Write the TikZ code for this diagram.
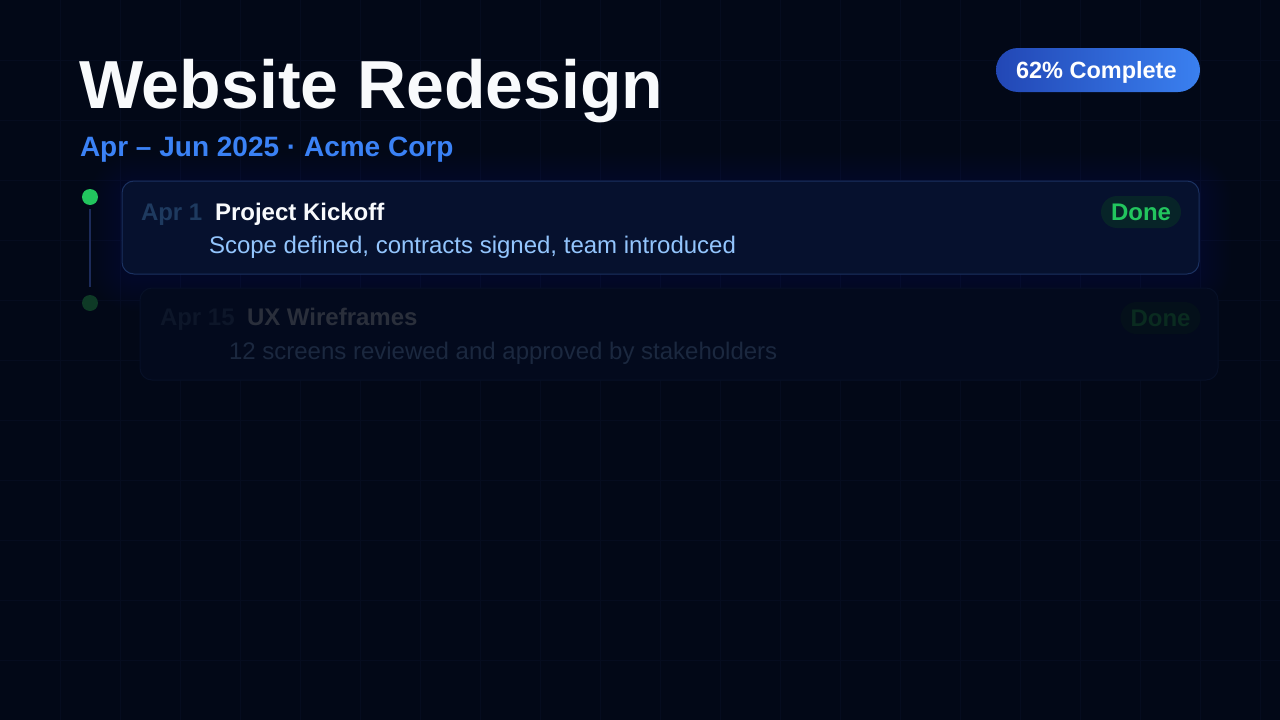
\documentclass[tikz,border=0pt]{standalone}
\usepackage{fontspec}
\setmainfont{Liberation Sans}
\definecolor{bg}{HTML}{020817}
\definecolor{gridc}{HTML}{050C1F}
\definecolor{titlec}{HTML}{F8FAFC}
\definecolor{subc}{HTML}{3B82F6}
\definecolor{badgeL}{HTML}{2247B5}
\definecolor{badgeR}{HTML}{3A80F0}
\definecolor{card1fill}{HTML}{06112E}
\definecolor{card1line}{HTML}{1B3160}
\definecolor{glowc}{HTML}{1D4ED8}
\definecolor{date1}{HTML}{1E3A5F}
\definecolor{desc1}{HTML}{93C5FD}
\definecolor{donefill}{HTML}{072428}
\definecolor{donetext}{HTML}{22C55E}
\definecolor{card2fill}{HTML}{030A1D}
\definecolor{card2line}{HTML}{071027}
\definecolor{date2}{HTML}{0D1629}
\definecolor{ttl2}{HTML}{2A2F3B}
\definecolor{desc2}{HTML}{1B283F}
\definecolor{done2fill}{HTML}{04101A}
\definecolor{done2text}{HTML}{0A2B20}
\definecolor{dot2c}{HTML}{0E3A26}
\definecolor{railc}{HTML}{1C2B5A}
\tikzset{
  txt/.style={anchor=base west, inner sep=0pt, outer sep=0pt},
  cardbox/.style={rectangle, rounded corners=12pt, inner sep=0pt, line width=1pt},
  donepill/.style={rectangle, rounded corners=16pt, inner sep=0pt, minimum width=80pt, minimum height=32pt, font=\fontsize{24}{28}\selectfont\bfseries},
  dotnode/.style={circle, inner sep=0pt, minimum size=16pt},
}
\begin{document}
\begin{tikzpicture}[x=1pt,y=-1pt]
\useasboundingbox (0,0) rectangle (1280,720);
\fill[bg] (0,0) rectangle (1280,720);
% faint grid
\foreach \gx in {60,120,...,1260} \draw[gridc, line width=1pt] (\gx,0) -- (\gx,720);
\foreach \gy in {60,120,...,660} \draw[gridc, line width=1pt] (0,\gy) -- (1280,\gy);

% title
\node[txt, text=titlec, font=\fontsize{68}{80}\selectfont\bfseries] (title) at (79,108) {Website Redesign};
\node[txt, text=subc, font=\fontsize{28}{32}\selectfont\bfseries] (subtitle) at (80,156) {Apr – Jun 2025 · Acme Corp};

% badge
\shade[left color=badgeL, right color=badgeR, rounded corners=22pt] (996,48) rectangle (1200,92);
\node[txt, text=white, font=\fontsize{23.5}{28}\selectfont\bfseries] (badge) at (1016,78.5) {62\% Complete};

% glow around card 1
\foreach \i in {1,...,16}
  \fill[glowc, opacity=0.007, rounded corners={12+2*\i}] ({122-2*\i},{185-2*\i}) rectangle ({1199+2*\i},{279+2*\i});

% card 2 (faded)
\node[cardbox, fill=card2fill, draw=card2line, minimum width=1078pt, minimum height=92pt] (card2) at (679,334) {};
\node[txt, text=date2, font=\fontsize{24}{28}\selectfont\bfseries] (date2) at (160,325) {Apr 15};
\node[txt, text=ttl2, font=\fontsize{24}{28}\selectfont\bfseries] (title2) at (247,325) {UX Wireframes};
\node[txt, text=desc2, font=\fontsize{24}{28}\selectfont] (desc2) at (229,359) {12 screens reviewed and approved by stakeholders};
\node[donepill, fill=done2fill, text=done2text] (done2) at (1160.5,318) {Done};

% card 1
\node[cardbox, fill=card1fill, draw=card1line, minimum width=1077pt, minimum height=93pt] (card1) at (660.5,227.5) {};
\node[txt, text=date1, font=\fontsize{24}{28}\selectfont\bfseries] (date1) at (141,220) {Apr 1};
\node[txt, text=titlec, font=\fontsize{24}{28}\selectfont\bfseries] (title1) at (215,220) {Project Kickoff};
\node[txt, text=desc1, font=\fontsize{24}{28}\selectfont] (desc1) at (209,253.5) {Scope defined, contracts signed, team introduced};
\node[donepill, fill=donefill, text=donetext] (done1) at (1141,212) {Done};

% rail
\node[dotnode, fill=donetext] (dot1) at (90,197) {};
\node[dotnode, fill=dot2c] (dot2) at (90,303) {};
\draw[railc, line width=2pt, shorten <=4pt, shorten >=8pt] (dot1.south) -- (dot2.north);
\end{tikzpicture}
\end{document}
